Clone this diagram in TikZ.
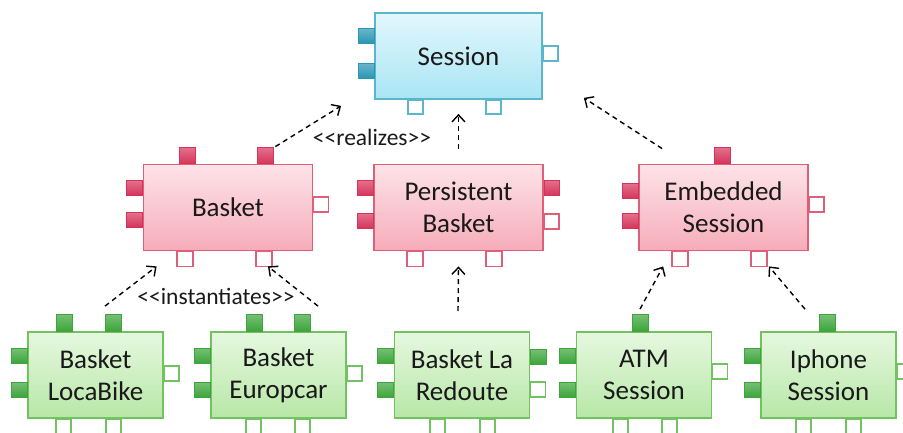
\documentclass[tikz,border=0pt]{standalone}
\usepackage{fontspec}
\setmainfont{Carlito}[Ligatures=TeXOff]
\usetikzlibrary{arrows.meta}
\definecolor{sesstop}{HTML}{E2F7FC}
\definecolor{sessbot}{HTML}{A9E5F4}
\definecolor{sessline}{HTML}{5CB6CB}
\definecolor{sessport}{HTML}{2B97B4}
\definecolor{bsktop}{HTML}{FDE3E8}
\definecolor{bskbot}{HTML}{F6ACBA}
\definecolor{bskline}{HTML}{DF5F78}
\definecolor{bskport}{HTML}{D6335A}
\definecolor{imptop}{HTML}{E6F8DF}
\definecolor{impbot}{HTML}{B7E7A7}
\definecolor{impline}{HTML}{72C262}
\definecolor{impport}{HTML}{3DA53B}
\tikzset{
  comp/.style={draw,line width=1.8pt,minimum height=86pt,align=center,text=black!90,font=\fontsize{27}{32}\selectfont},
  sesscomp/.style={comp,draw=sessline,top color=sesstop,bottom color=sessbot,minimum width=167pt},
  bskcomp/.style={comp,draw=bskline,top color=bsktop,bottom color=bskbot,minimum width=169pt},
  impcomp/.style={comp,draw=impline,top color=imptop,bottom color=impbot,minimum width=135pt},
  fullport/.style={draw=#1,top color=#1!70!white,bottom color=#1,line width=0.8pt},
  openport/.style={draw=#1,fill=white,line width=1.8pt},
  dep/.style={dash pattern=on 5pt off 4pt,line width=1.4pt,-{Straight Barb[length=7pt,width=13pt]}},
  stereo/.style={font=\fontsize{23.5}{28}\selectfont,text=black!90}
}
\begin{document}
\begin{tikzpicture}[x=1pt,y=1pt]
	\useasboundingbox (0,0) rectangle (903,432);
	% components
	\node[sesscomp] (sess) at (458.5,376) {Session};
	\node[bskcomp] (bsk) at (228,224.5) {Basket};
	\node[bskcomp] (pb) at (458.5,224.5) {Persistent\\Basket};
	\node[bskcomp] (emb) at (723.5,224.5) {Embedded\\Session};
	\node[impcomp] (lb) at (95.5,57) {Basket\\LocaBike};
	\node[impcomp] (eu) at (278.5,57) {Basket\\Europcar};
	\node[impcomp] (lr) at (462,57) {Basket La\\Redoute};
	\node[impcomp] (atm) at (644,57) {ATM\\Session};
	\node[impcomp] (iph) at (828.5,57) {Iphone\\Session};
	% ports of Session
	\foreach \dy in {-16,-51} \draw[fullport=sessport] ([shift={(-16,\dy)}]sess.north west) rectangle ++(16,-15);
	\draw[openport=sessline] ([shift={(0,-34)}]sess.north east) rectangle ++(15,-15);
	\foreach \dx in {34,112} \draw[openport=sessline] ([shift={(\dx,0)}]sess.south west) rectangle ++(15,-14);
	% ports of the baskets
	\foreach \dx in {37,115} \draw[fullport=bskport] ([shift={(\dx,16)}]bsk.north west) rectangle ++(16,-16);
	\foreach \n/\a/\b in {bsk/-17/-49,pb/-17/-50,emb/-20/-50} {
		\draw[fullport=bskport] ([shift={(-16,\a)}]\n.north west) rectangle ++(16,-15);
		\draw[fullport=bskport] ([shift={(-16,\b)}]\n.north west) rectangle ++(16,-15);
		\foreach \dx in {34,113} \draw[openport=bskline] ([shift={(\dx,0)}]\n.south west) rectangle ++(16,-15);
	}
	\draw[openport=bskline] ([shift={(0,-33)}]bsk.north east) rectangle ++(15,-15);
	\draw[fullport=bskport] ([shift={(0,-17)}]pb.north east) rectangle ++(15,-15);
	\draw[openport=bskline] ([shift={(0,-50)}]pb.north east) rectangle ++(15,-15);
	\draw[fullport=bskport] ([shift={(76,16)}]emb.north west) rectangle ++(16,-16);
	\draw[openport=bskline] ([shift={(0,-33)}]emb.north east) rectangle ++(15,-15);
	% ports of the implementations
	\foreach \n/\a/\b in {lb/29/79,eu/36/85,lr/36/86,atm/37/86,iph/36/86} {
		\foreach \dy in {-17,-51} \draw[fullport=impport] ([shift={(-16,\dy)}]\n.north west) rectangle ++(16,-15);
		\foreach \dx in {\a,\b} \draw[openport=impline] ([shift={(\dx,0)}]\n.south west) rectangle ++(15,-15);
	}
	\foreach \n/\dx in {lb/29,lb/78,eu/36,eu/84,atm/57,iph/59} \draw[fullport=impport] ([shift={(\dx,17)}]\n.north west) rectangle ++(16,-17);
	\foreach \n in {lb,eu} \draw[openport=impline] ([shift={(0,-35)}]\n.north east) rectangle ++(15,-15);
	\foreach \n in {atm,iph} \draw[openport=impline] ([shift={(0,-33)}]\n.north east) rectangle ++(15,-15);
	\draw[fullport=impport] ([shift={(0,-18)}]lr.north east) rectangle ++(16,-15);
	\draw[openport=impline] ([shift={(0,-51)}]lr.north east) rectangle ++(15,-15);
	% dependencies
	\draw[dep] ([shift={(-38,17)}]bsk.north east) -- ([shift={(-33,-6)}]sess.south west);
	\draw[dep] ([shift={(0,15)}]pb.north) -- ([shift={(0,-14)}]sess.south);
	\draw[dep] ([shift={(24,15)}]emb.north west) -- ([shift={(41,2)}]sess.south east);
	\draw[dep] ([shift={(9.5,25)}]lb.north) -- ([shift={(14,-15)}]bsk.south west);
	\draw[dep] ([shift={(39.5,25)}]eu.north) -- ([shift={(40,-15)}]bsk.south);
	\draw[dep] ([shift={(-4,20)}]lr.north) -- ([shift={(0,-15)}]pb.south);
	\draw[dep] ([shift={(-4,22)}]atm.north) -- ([shift={(25,-15)}]emb.south west);
	\draw[dep] ([shift={(-23.5,22)}]iph.north) -- ([shift={(-40,-15)}]emb.south east);
	\node[stereo] (realizes) at (372,295) {<<realizes>>};
	\node[stereo] (inst) at (216,136) {<<instantiates>>};
\end{tikzpicture}
\end{document}
